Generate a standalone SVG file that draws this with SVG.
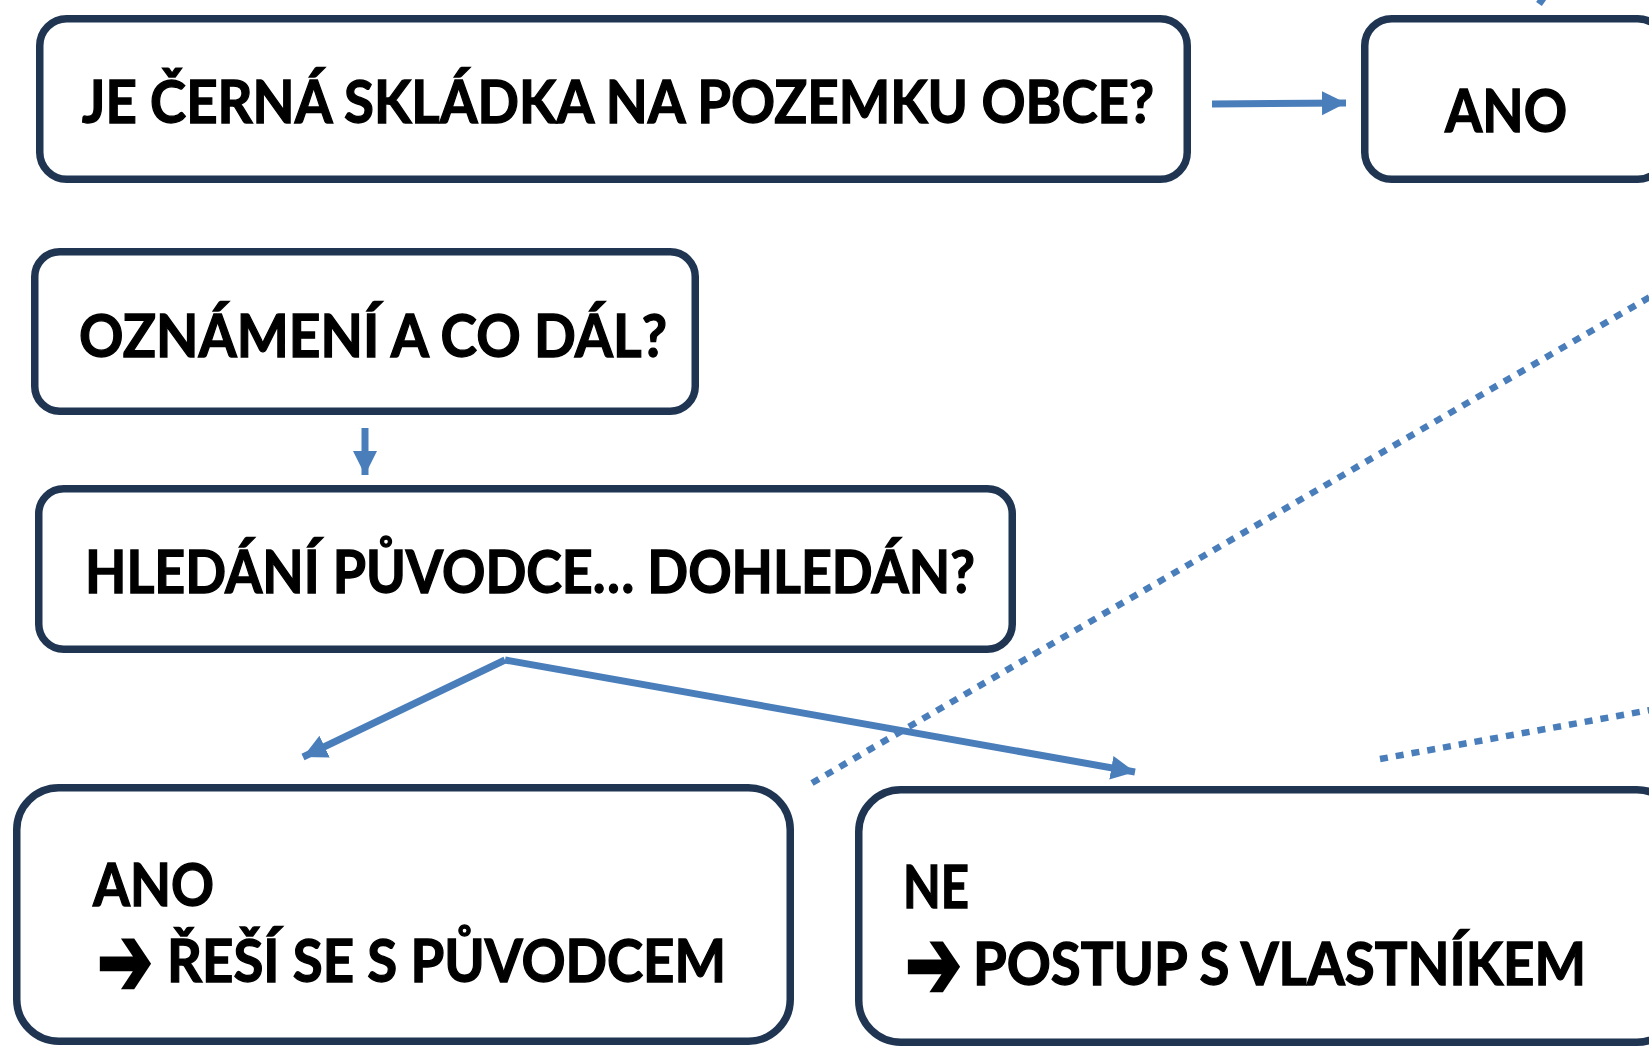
<svg xmlns="http://www.w3.org/2000/svg" width="1649" height="1047" viewBox="0 0 1649 1047">
<style>
.box{fill:#ffffff;stroke:#1f3552;stroke-width:7.5}
.t{font-family:Lato,"Open Sans","Liberation Sans",sans-serif;font-weight:700;font-size:59px;fill:#000000;stroke:#000000;stroke-width:1.3}
.arr{font-family:"DejaVu Sans",sans-serif;font-weight:700;font-size:100px;stroke-width:3}
.con{fill:none;stroke:#4a7ebb;stroke-width:7}
.dot{fill:none;stroke:#4a7ebb;stroke-width:6.5;stroke-dasharray:8 8}
</style>
<defs>
<marker id="ah" markerUnits="userSpaceOnUse" markerWidth="26" markerHeight="26" viewBox="0 0 26 26" refX="24" refY="12" orient="auto">
<path d="M0,0 L24,12 L0,24 Z" fill="#4a7ebb"/>
</marker>
</defs>
<rect width="1649" height="1047" fill="#ffffff"/>
<g id="connectors">
<line class="con" x1="1212" y1="104" x2="1346" y2="103" marker-end="url(#ah)"/>
<line class="con" x1="365" y1="428" x2="365" y2="475" stroke-width="8" marker-end="url(#ah)"/>
<line class="con" x1="505" y1="660" x2="303" y2="757" marker-end="url(#ah)"/>
<line class="con" x1="505" y1="660" x2="1135" y2="772" marker-end="url(#ah)"/>
<line class="dot" x1="812" y1="783" x2="1700" y2="268"/>
<line class="dot" x1="1380" y1="759" x2="1700" y2="701"/>
<line class="con" x1="1539" y1="4" x2="1546" y2="-6" stroke-width="3"/>
</g>
<g id="n1">
<rect class="box" x="39.75" y="18.75" width="1147.5" height="160.5" rx="27"/>
<text class="t" x="82" y="123" textLength="1072" lengthAdjust="spacingAndGlyphs">JE ČERNÁ SKLÁDKA NA POZEMKU OBCE?</text>
</g>
<g id="n2">
<rect class="box" x="1364.75" y="18.75" width="300" height="160.5" rx="27"/>
<text class="t" x="1445" y="132" textLength="122" lengthAdjust="spacingAndGlyphs">ANO</text>
</g>
<g id="n3">
<rect class="box" x="34.75" y="251.75" width="660.5" height="159.5" rx="25"/>
<text class="t" x="79" y="357" textLength="588" lengthAdjust="spacingAndGlyphs">OZNÁMENÍ A CO DÁL?</text>
</g>
<g id="n4">
<rect class="box" x="38.75" y="488.75" width="973.5" height="160.5" rx="25"/>
<text class="t" x="85" y="593" textLength="890" lengthAdjust="spacingAndGlyphs">HLEDÁNÍ PŮVODCE… DOHLEDÁN?</text>
</g>
<g id="n5">
<rect class="box" x="16.75" y="787.75" width="773.5" height="253.5" rx="42"/>
<text class="t" x="93" y="906" textLength="121" lengthAdjust="spacingAndGlyphs">ANO</text>
<text class="t"><tspan class="arr" x="97" y="995" textLength="56" lengthAdjust="spacingAndGlyphs">➔</tspan><tspan x="167" y="982" textLength="559" lengthAdjust="spacingAndGlyphs">ŘEŠÍ SE S PŮVODCEM</tspan></text>
</g>
<g id="n6">
<rect class="box" x="858.75" y="789.75" width="820" height="252.5" rx="42"/>
<text class="t" x="903" y="908" textLength="66" lengthAdjust="spacingAndGlyphs">NE</text>
<text class="t"><tspan class="arr" x="905" y="998" textLength="57" lengthAdjust="spacingAndGlyphs">➔</tspan><tspan x="973" y="985" textLength="613" lengthAdjust="spacingAndGlyphs">POSTUP S VLASTNÍKEM</tspan></text>
</g>
</svg>
